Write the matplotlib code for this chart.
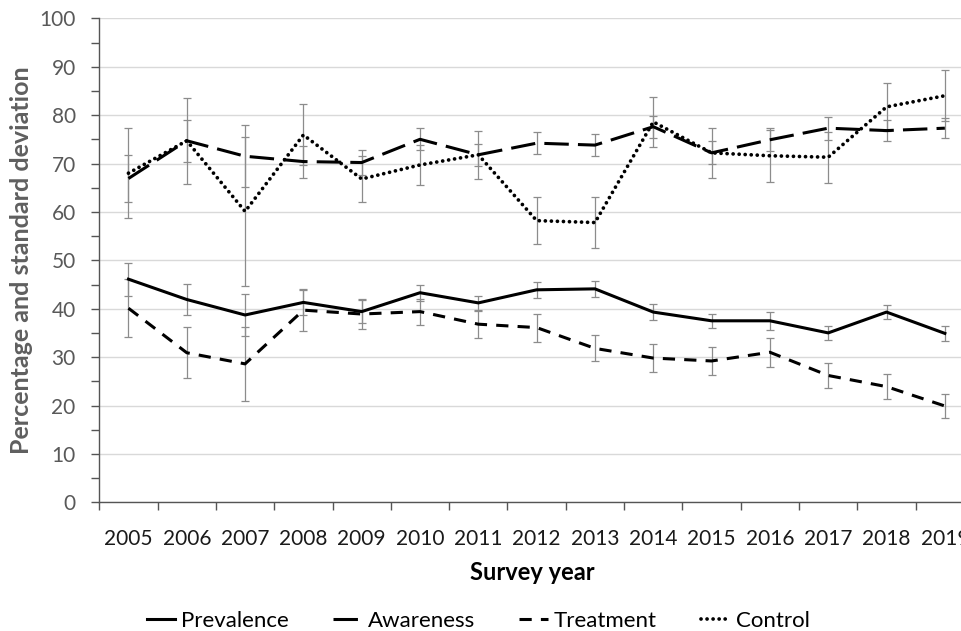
import matplotlib
matplotlib.use("Agg")
import matplotlib.pyplot as plt
from matplotlib.lines import Line2D
from matplotlib.ticker import FixedLocator, MultipleLocator
import numpy as np

plt.rcParams['font.family'] = ['Lato', 'DejaVu Sans']

years = ['2005', '2006', '2007', '2008', '2009', '2010', '2011', '2012',
         '2013', '2014', '2015', '2016', '2017', '2018', '2019']

prevalence = [46.1, 41.9, 38.7, 41.3, 39.4, 43.3, 41.2, 43.9, 44.1, 39.3, 37.5, 37.5, 35.0, 39.3, 34.9]
prevalence_sd = [3.4, 3.2, 4.3, 2.6, 2.3, 1.7, 1.5, 1.6, 1.6, 1.6, 1.5, 1.8, 1.5, 1.5, 1.5]

awareness = [66.9, 74.7, 71.5, 70.4, 70.2, 75.0, 71.8, 74.2, 73.8, 77.6, 72.2, 74.9, 77.3, 76.8, 77.3]
awareness_sd = [4.9, 4.3, 6.4, 3.3, 2.5, 2.3, 2.3, 2.3, 2.3, 2.3, 2.4, 2.4, 2.4, 2.2, 2.1]

treatment = [40.1, 30.9, 28.6, 39.7, 38.9, 39.4, 36.8, 36.1, 31.8, 29.8, 29.2, 31.0, 26.2, 23.9, 19.9]
treatment_sd = [6.0, 5.3, 7.7, 4.3, 3.1, 2.7, 2.8, 2.9, 2.7, 2.9, 2.8, 3.0, 2.5, 2.6, 2.4]

control = [68.0, 74.7, 60.1, 75.9, 66.8, 69.7, 71.8, 58.2, 57.8, 78.6, 72.2, 71.6, 71.3, 81.7, 84.0]
control_sd = [9.3, 8.9, 15.4, 6.3, 4.8, 4.1, 4.9, 4.9, 5.2, 5.1, 5.1, 5.4, 5.3, 4.9, 5.3]

W, H = 961, 631
fig = plt.figure(figsize=(W / 100, H / 100), dpi=100)
# plot area runs a little past the right edge of the canvas
left, right, top, bottom = 99.3, 974.0, 18.3, 502.3
ax = fig.add_axes([left / W, 1 - bottom / H, (right - left) / W, (bottom - top) / H])

x = np.arange(len(years))
lw = 2.2
series = [
    (prevalence, prevalence_sd, dict(linestyle='-', lw=lw)),
    (awareness, awareness_sd, dict(linestyle=(0, (8, 3)), lw=lw)),
    (treatment, treatment_sd, dict(linestyle=(0, (4, 3)), lw=lw)),
    (control, control_sd, dict(linestyle=(0, (0.01, 1.6)), lw=2.7, dash_capstyle='round')),
]
names = ['Prevalence', 'Awareness', 'Treatment', 'Control']

for vals, sd, style in series:
    ax.errorbar(x, vals, yerr=sd, fmt='none', ecolor='#8c8c8c', elinewidth=0.9,
                capsize=2.6, capthick=0.9, zorder=2)
for (vals, sd, style), name in zip(series, names):
    ax.plot(x, vals, color='black', zorder=3, label=name, **style)

ax.set_xlim(-0.5, len(years) - 0.5)
ax.set_ylim(0, 100)

# category labels sit between the boundary tick marks
ax.set_xticks(x)
ax.set_xticklabels(years, fontsize=15, color='#1a1a1a')
ax.tick_params(axis='x', which='major', length=0, pad=19)
ax.xaxis.set_minor_locator(FixedLocator(np.arange(-0.5, len(years), 1.0)))
ax.tick_params(axis='x', which='minor', length=6, width=1, color='#555555', direction='out')

ax.yaxis.set_major_locator(MultipleLocator(10))
ax.yaxis.set_minor_locator(MultipleLocator(5))
ax.tick_params(axis='y', which='both', length=6, width=1, color='#555555',
               direction='out', labelsize=15, labelcolor='#595959', pad=11)

ax.grid(axis='y', which='major', color='#d9d9d9', lw=1.0, zorder=0)
ax.set_axisbelow(True)
for s in ['top', 'right']:
    ax.spines[s].set_visible(False)
for s in ['left', 'bottom']:
    ax.spines[s].set_color('#555555')
    ax.spines[s].set_linewidth(1.0)

ax.set_ylabel('Percentage and standard deviation', fontsize=18, fontweight='bold',
              color='#5f5f5f')
ax.yaxis.set_label_coords(-(left - 33) / (right - left), 0.5)
fig.text(532 / W, 1 - 572 / H, 'Survey year', fontsize=17, fontweight='bold',
         ha='center', va='center', color='black')

handles = [Line2D([0], [0], color='black', **st) for _, _, st in series]
fig.legend(handles, names, loc='center', bbox_to_anchor=(478 / W, 1 - 621 / H),
           ncol=4, frameon=False, fontsize=16, handlelength=1.3, columnspacing=2.0,
           handletextpad=0.25)

fig.savefig('out.png', dpi=100, facecolor='white')
